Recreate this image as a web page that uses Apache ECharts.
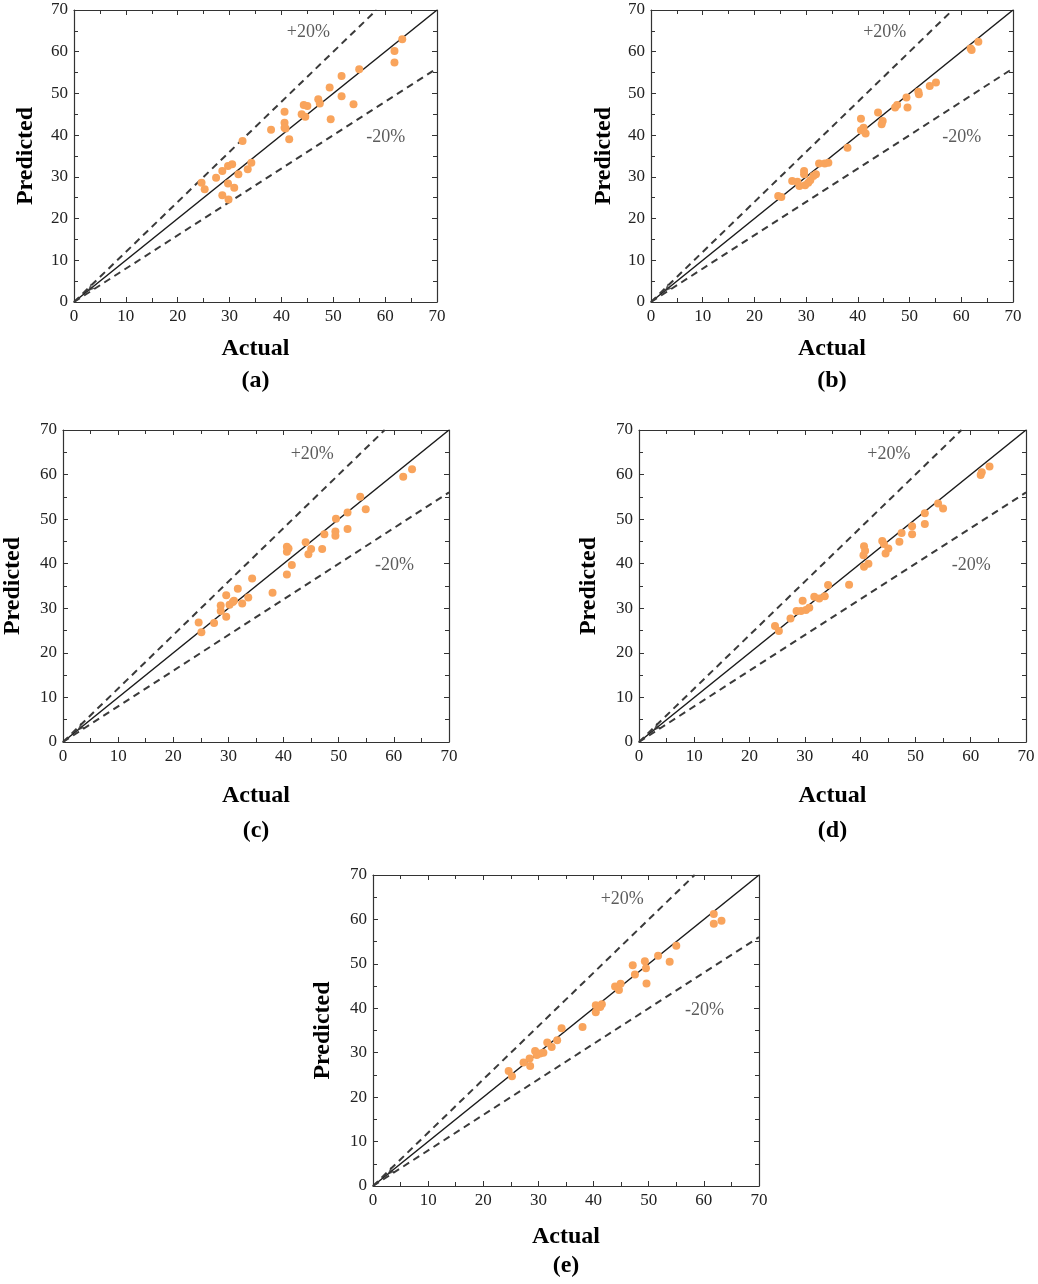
<!DOCTYPE html>
<html>
<head>
<meta charset="utf-8">
<title>Actual vs Predicted</title>
<script src="https://cdn.jsdelivr.net/npm/echarts@6/dist/echarts.min.js"></script>
<style>
  html, body { margin: 0; padding: 0; background: #fff; }
  #chart { width: 1038px; height: 1284px; }
</style>
</head>
<body>
<div id="chart"></div>
<script>
// values
const actualA = [24.6, 25.2, 27.4, 28.6, 28.6, 29.7, 30.5, 29.7, 29.8, 30.9, 31.7, 32.5, 33.5, 34.2, 38.0, 40.6, 40.6, 40.6, 40.8, 41.5, 43.9, 44.3, 45.0, 44.6, 47.1, 47.4, 49.3, 49.5, 51.6, 51.6, 53.9, 55.0, 61.8, 61.8, 63.3]
const predictedA = [28.6, 27.0, 29.8, 31.4, 25.6, 32.6, 33.0, 28.4, 24.6, 27.4, 30.6, 38.6, 31.8, 33.4, 41.3, 45.6, 43.0, 41.8, 41.6, 39.0, 45.0, 47.2, 47.0, 44.4, 48.6, 47.6, 51.4, 43.8, 54.2, 49.3, 47.4, 55.8, 60.2, 57.4, 63.0]

const actualB = [24.6, 25.2, 27.3, 28.3, 28.7, 29.6, 29.6, 29.8, 30.4, 30.8, 31.4, 31.9, 32.5, 33.6, 34.3, 38.0, 40.6, 40.6, 41.1, 41.5, 43.9, 44.8, 44.6, 47.2, 47.6, 49.4, 49.6, 51.7, 51.8, 53.9, 55.1, 62.0, 61.8, 63.3]
const predictedB = [25.4, 25.2, 29.0, 28.8, 27.8, 31.4, 30.6, 28.0, 28.6, 29.2, 30.2, 30.6, 33.2, 33.2, 33.4, 37.0, 43.9, 41.2, 41.8, 40.4, 45.4, 43.4, 42.6, 46.6, 47.2, 49.0, 46.6, 50.4, 49.8, 51.8, 52.6, 60.4, 60.8, 62.4]

const actualC = [24.6, 25.1, 27.4, 28.6, 28.6, 29.6, 29.6, 30.2, 30.8, 31.7, 31.0, 32.5, 33.6, 34.3, 38.0, 40.6, 40.6, 40.6, 40.9, 41.5, 44.0, 45.0, 44.5, 47.0, 47.4, 49.4, 49.4, 49.5, 51.6, 51.6, 53.9, 54.9, 61.7, 63.3]
const predictedC = [26.8, 24.6, 26.7, 30.6, 29.4, 32.9, 28.1, 30.8, 31.4, 34.4, 31.7, 31.1, 32.4, 36.7, 33.5, 43.8, 42.7, 37.6, 43.4, 39.7, 44.8, 43.3, 42.1, 43.3, 46.6, 47.2, 46.3, 50.1, 51.5, 47.8, 55.0, 52.2, 59.5, 61.2]

const actualD = [24.6, 25.3, 27.4, 28.5, 29.6, 29.3, 30.2, 30.8, 31.7, 32.6, 33.6, 34.2, 38.0, 40.7, 40.6, 40.9, 40.7, 41.5, 44.0, 44.3, 45.1, 44.6, 47.1, 47.5, 49.4, 49.4, 51.7, 51.7, 54.1, 55.0, 61.8, 62.0, 63.4]
const predictedD = [26.0, 24.9, 27.7, 29.4, 31.7, 29.4, 29.6, 30.1, 32.6, 32.2, 32.7, 35.2, 35.3, 43.9, 41.9, 42.9, 39.3, 40.0, 45.1, 44.4, 43.4, 42.3, 44.9, 46.9, 48.4, 46.6, 51.3, 48.9, 53.5, 52.4, 59.9, 60.5, 61.8]

const actualE = [24.6, 25.2, 27.3, 28.4, 28.5, 29.4, 29.7, 30.3, 30.9, 31.6, 32.4, 33.4, 34.2, 38.0, 40.4, 40.4, 41.2, 41.5, 43.9, 44.6, 44.9, 47.1, 47.5, 49.3, 49.5, 49.6, 51.7, 53.8, 55.0, 61.8, 61.8, 63.2]
const predictedE = [25.9, 24.7, 27.8, 28.7, 27.0, 30.4, 29.5, 29.8, 30.0, 32.3, 31.3, 32.8, 35.5, 35.8, 40.7, 39.1, 40.3, 40.9, 44.9, 44.1, 45.5, 49.7, 47.6, 50.6, 49.0, 45.6, 51.8, 50.5, 54.1, 61.2, 59.0, 59.7]

const panelLetters = ['(a)', '(b)', '(c)', '(d)', '(e)']
const axisTicks = [0, 10, 20, 30, 40, 50, 60, 70]
const bandRatios = [1, 1.2, 0.8]          // y = x, +20%, -20%
const bandLabels = ['+20%', '-20%']

const FONT = '"Liberation Serif", "Times New Roman", serif'
const AXIS_MIN = axisTicks[0]
const AXIS_MAX = axisTicks[axisTicks.length - 1]

// layout of each panel on the page (px)
const boxes = [
  { left: 74, top: 10, width: 363, height: 292, xGap: 35, yGap: 36, capY: 381 },
  { left: 651, top: 10, width: 362, height: 292, xGap: 35, yGap: 35, capY: 381 },
  { left: 63, top: 430, width: 386, height: 312, xGap: 42, yGap: 38, capY: 831 },
  { left: 639, top: 430, width: 387, height: 312, xGap: 42, yGap: 38, capY: 831 },
  { left: 373, top: 875, width: 386, height: 311, xGap: 39, yGap: 38, capY: 1266 }
]

const panels = [
  [actualA, predictedA],
  [actualB, predictedB],
  [actualC, predictedC],
  [actualD, predictedD],
  [actualE, predictedE]
]

function bandLine(ratio) {
  // line y = ratio * x clipped to the square plot
  var xEnd = Math.min(AXIS_MAX, AXIS_MAX / ratio)
  return [[0, 0], [xEnd, xEnd * ratio]]
}

var grid = [], xAxis = [], yAxis = [], series = [], graphic = []

boxes.forEach(function (b, i) {
  grid.push({ left: b.left, top: b.top, width: b.width, height: b.height, show: false })

  var tickCommon = {
    min: AXIS_MIN, max: AXIS_MAX, interval: 10, type: 'value', gridIndex: i,
    axisLine: { show: true, onZero: false, lineStyle: { color: '#333', width: 1.2 } },
    axisTick: { show: true, inside: true, length: 5, lineStyle: { color: '#333' } },
    minorTick: { show: true, splitNumber: 2, length: 4, lineStyle: { color: '#333' } },
    splitLine: { show: false }
  }

  xAxis.push(Object.assign({}, tickCommon, {
    position: 'bottom',
    axisLabel: { fontFamily: FONT, fontSize: 17, color: '#222', margin: 6 },
    name: 'Actual', nameLocation: 'middle', nameGap: b.xGap,
    nameTextStyle: { fontFamily: FONT, fontSize: 24, fontWeight: 'bold', color: '#000' }
  }))
  yAxis.push(Object.assign({}, tickCommon, {
    position: 'left',
    axisLabel: { fontFamily: FONT, fontSize: 17, color: '#222', margin: 6 },
    name: 'Predicted', nameLocation: 'middle', nameGap: b.yGap,
    nameTextStyle: { fontFamily: FONT, fontSize: 24, fontWeight: 'bold', color: '#000' }
  }))
  // frame on top and right
  xAxis.push(Object.assign({}, tickCommon, { position: 'top', axisLabel: { show: false } }))
  yAxis.push(Object.assign({}, tickCommon, { position: 'right', axisLabel: { show: false } }))

  var xi = i * 2, yi = i * 2
  var actual = panels[i][0], predicted = panels[i][1]

  series.push({
    type: 'scatter', xAxisIndex: xi, yAxisIndex: yi, z: 5,
    symbolSize: 8,
    itemStyle: { color: '#F9A45C', opacity: 1 },
    data: actual.map(function (a, k) { return [a, predicted[k]] })
  })

  bandRatios.forEach(function (r, k) {
    series.push({
      type: 'line', xAxisIndex: xi, yAxisIndex: yi, z: 3,
      symbol: 'none', silent: true,
      lineStyle: k === 0
        ? { color: '#1a1a1a', width: 1.5, type: 'solid' }
        : { color: '#3a3a3a', width: 2, type: [7, 5] },
      data: bandLine(r)
    })
  })

  // small arrow mark near origin
  series.push({
    type: 'scatter', xAxisIndex: xi, yAxisIndex: yi, z: 4, silent: true,
    symbol: 'arrow', symbolSize: [5, 8], symbolRotate: 135,
    itemStyle: { color: '#333' },
    data: [[2.6, 2.5]]
  })

  // +20% / -20% annotations
  series.push({
    type: 'scatter', xAxisIndex: xi, yAxisIndex: yi, z: 6, silent: true,
    symbolSize: 0,
    label: {
      show: true, position: 'inside',
      fontFamily: FONT, fontSize: 18, color: '#333',
      formatter: function (p) { return p.name }
    },
    data: [
      { name: bandLabels[0], value: [45.2, 64.6] },
      { name: bandLabels[1], value: [60.1, 39.6] }
    ]
  })

  graphic.push({
    type: 'text',
    x: b.left + b.width / 2, y: b.capY,
    style: {
      text: panelLetters[i],
      font: 'bold 24px ' + FONT,
      fill: '#000',
      textAlign: 'center', textVerticalAlign: 'middle'
    }
  })
})

var chart = echarts.init(document.getElementById('chart'), null, { renderer: 'canvas' })
chart.setOption({
  animation: false,
  backgroundColor: '#fff',
  grid: grid,
  xAxis: xAxis,
  yAxis: yAxis,
  series: series,
  graphic: graphic
})
</script>
</body>
</html>
